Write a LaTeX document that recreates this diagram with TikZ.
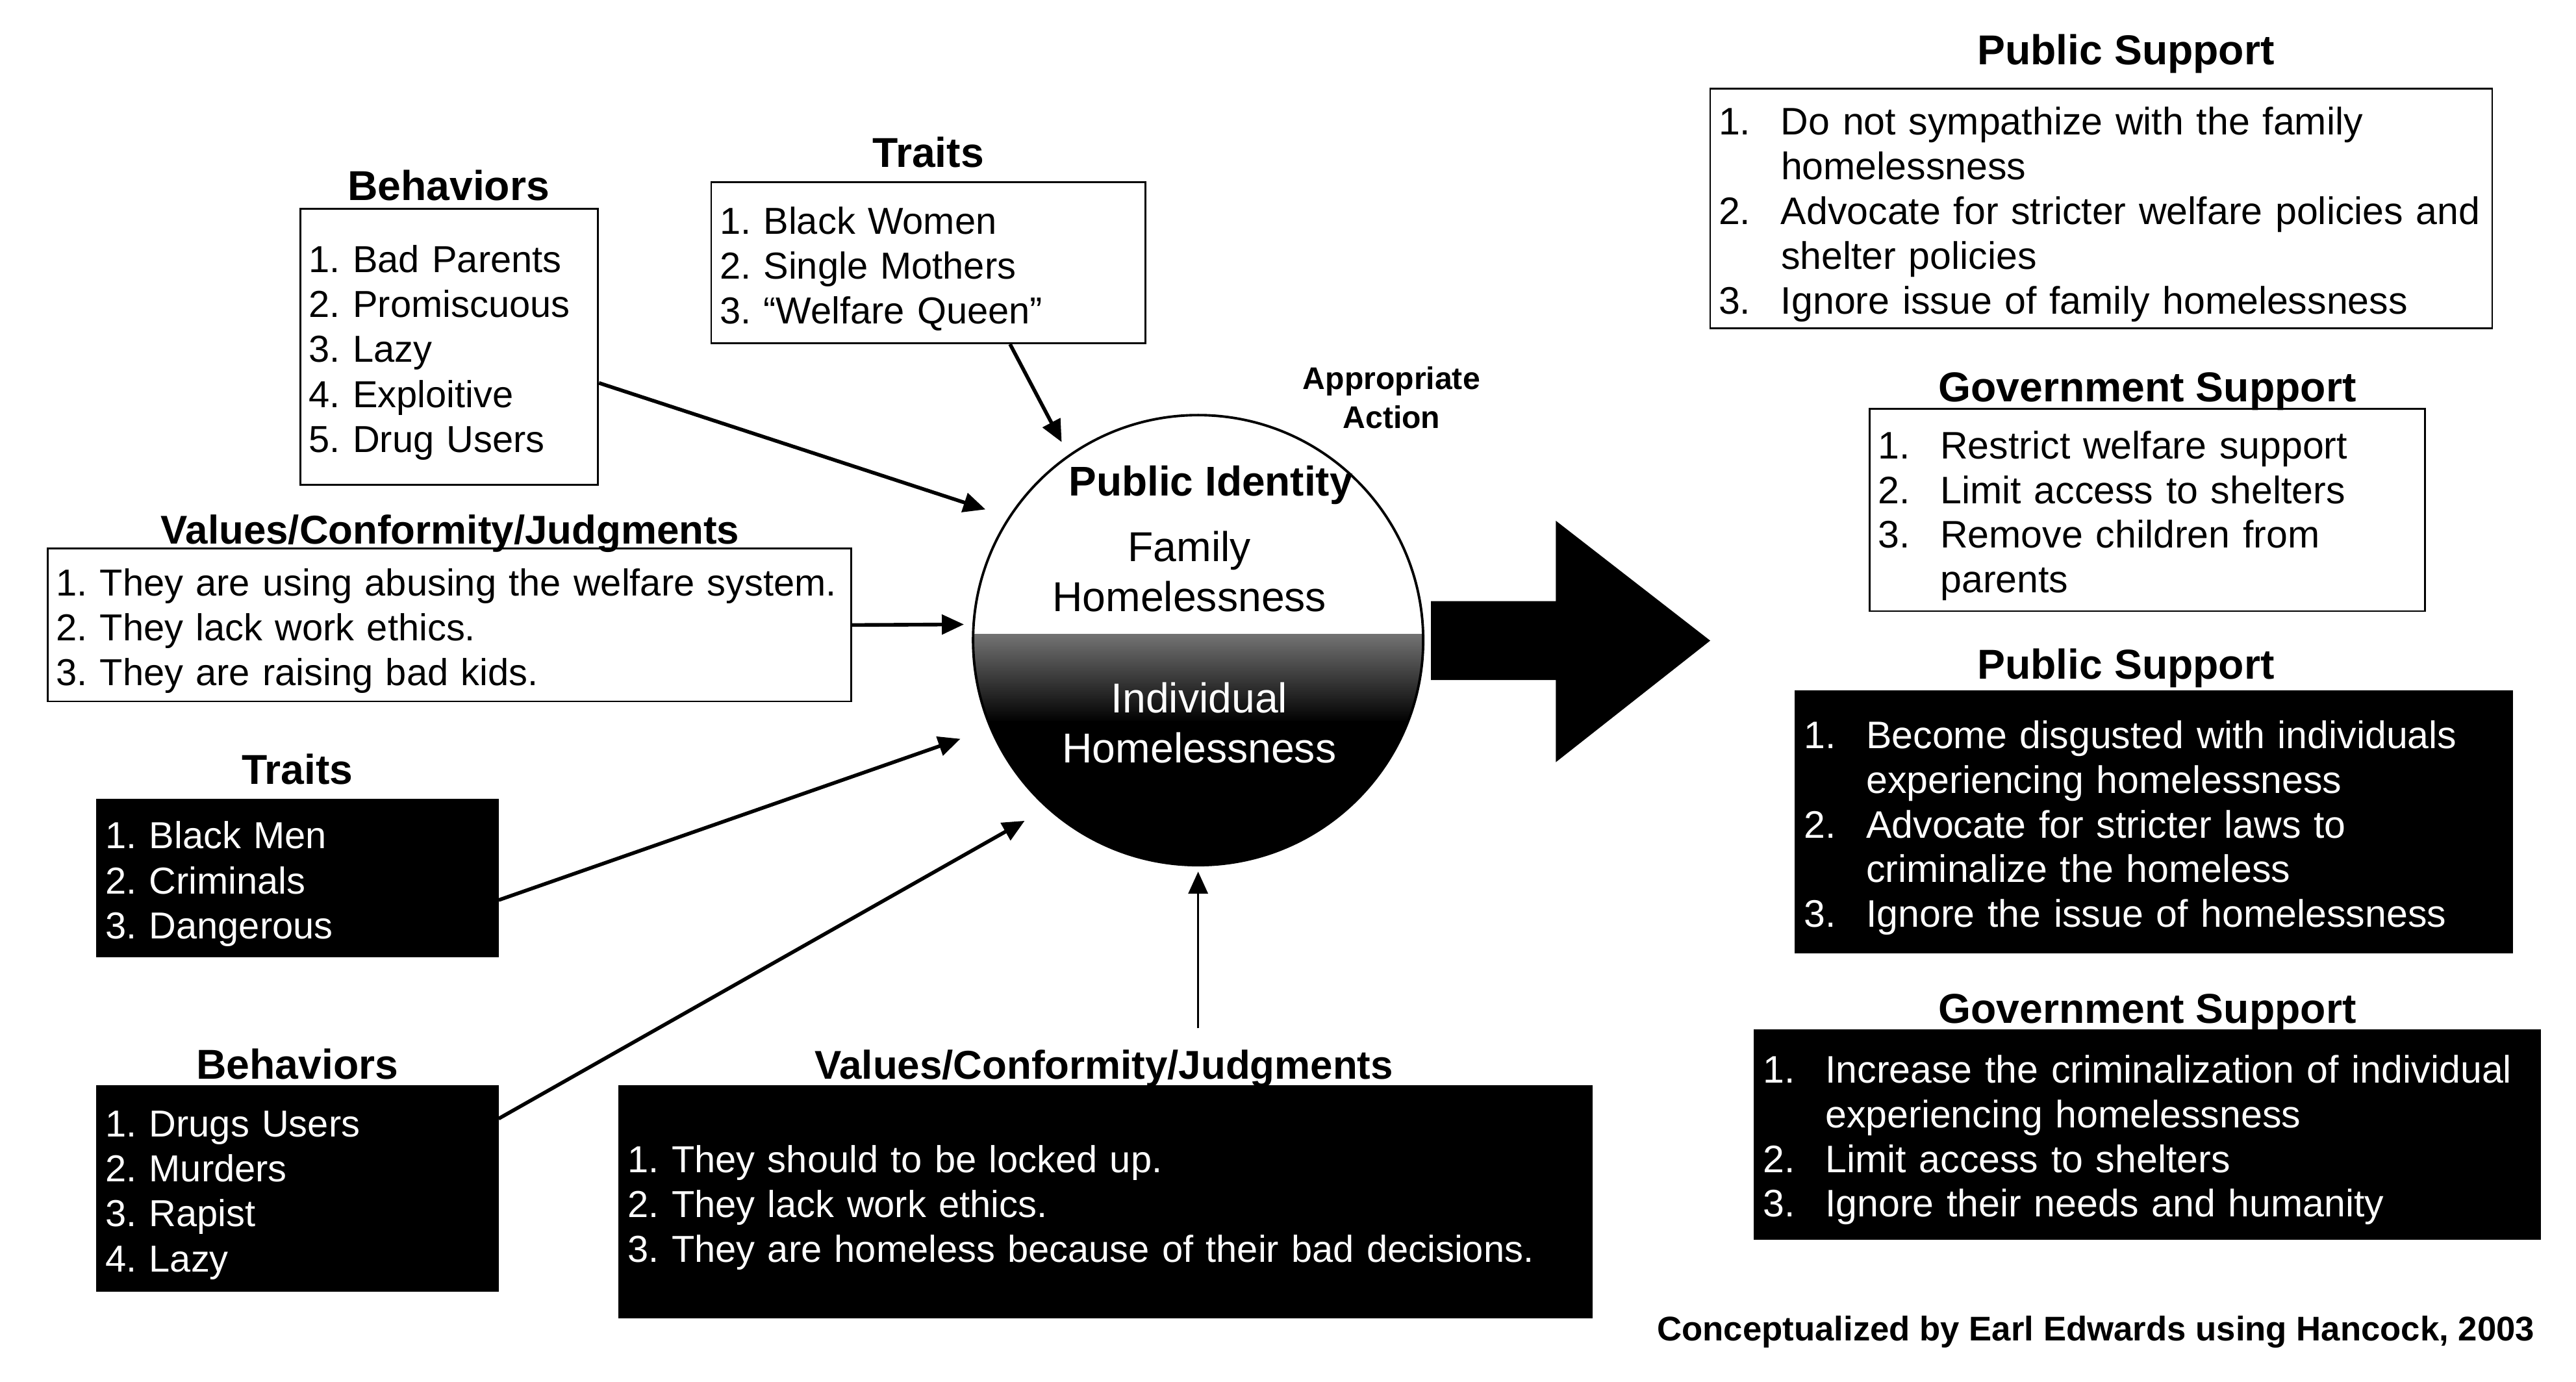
\documentclass[tikz,border=0pt]{standalone}
\usepackage{fontspec}
\setmainfont{Liberation Sans}
\usetikzlibrary{arrows.meta}
\newcommand{\inum}[1]{\makebox[9.6mm][l]{#1}}

\tikzset{
  listbox/.style={draw, line width=0.8pt, inner xsep=1.3mm, inner ysep=0pt, align=left,
    font=\fontsize{16.45}{19.7}\selectfont, execute at begin node={\rule{0pt}{17.2pt}}},
  rlistbox/.style={listbox, font=\fontsize{16.8}{19.6}\selectfont},
  blackbox/.style={fill=black, text=white},
  head/.style={font=\fontsize{18.3}{21}\selectfont\bfseries, inner sep=0pt, anchor=base},
  circtext/.style={font=\fontsize{18.3}{22}\selectfont, align=center, inner sep=0pt},
  arr/.style={-{Triangle[length=3.4mm, width=3mm]}, line width=1.6pt},
}

\begin{document}
\frenchspacing
\begin{tikzpicture}[x=0.25293mm, y=-0.25293mm]

    \useasboundingbox (0,0) rectangle (1568,841.3);

    % family side
    \node[head] (hbehA) at (273,122) {Behaviors};
    \node[listbox, text width=43.2mm, minimum height=42.5mm] (behA) at (273.5,211)
    {1. Bad Parents\\2. Promiscuous\\3. Lazy\\4. Exploitive\\5. Drug Users};

    \node[head] (htrA) at (565,102) {Traits};
    \node[listbox, text width=64.2mm, minimum height=24.78mm] (trA) at (565,160)
    {1. Black Women\\2. Single Mothers\\3. “Welfare Queen”};

    \node[head, font=\fontsize{17.6}{21}\selectfont\bfseries] (hvalA) at (274,331) {Values/Conformity/Judgments};
    \node[listbox, text width=121.1mm, minimum height=23.52mm] (valA) at (273.5,380.5)
    {\mbox{1. They are using abusing the welfare system.}\\2. They lack work ethics.\\3. They are raising bad kids.};

    % individual side
    \node[head] (htrB) at (181,477.5) {Traits};
    \node[listbox, blackbox, text width=59.1mm, minimum height=24.03mm] (trB) at (181,534.5)
    {1. Black Men\\2. Criminals\\3. Dangerous};

    \node[head] (hbehB) at (181,657) {Behaviors};
    \node[listbox, blackbox, text width=59.1mm, minimum height=31.61mm] (behB) at (181,723.5)
    {1. Drugs Users\\2. Murders\\3. Rapist\\4. Lazy};

    \node[head, font=\fontsize{17.6}{21}\selectfont\bfseries] (hvalB) at (672,657) {Values/Conformity/Judgments};
    \node[listbox, blackbox, text width=147.1mm, minimum height=35.66mm] (valB) at (673,731.5)
    {1. They should to be locked up.\\2. They lack work ethics.\\3. They are homeless because of their bad decisions.};

    % public identity
    \begin{scope}
        \clip (729.3,389.7) circle (34.65mm);
        \shade[top color=black!55, bottom color=black] (590,386) rectangle (870,440);
        \fill[black] (590,439) rectangle (870,530);
    \end{scope}
    \node[circle, draw, line width=1.1pt, minimum size=69.3mm, inner sep=0pt] (ident) at (729.3,389.7) {};

    \node[head, font=\fontsize{18.2}{21}\selectfont\bfseries] (pubid) at (737,302) {Public Identity};
    \node[circtext] (fam) at (724,348) {Family\\Homelessness};
    \node[circtext, text=white] (indiv) at (730,440) {Individual\\Homelessness};

    \node[font=\fontsize{13.7}{17}\selectfont\bfseries, align=center, inner sep=0pt] (act) at (847,242) {Appropriate\\Action};

    \fill[black] (871,366) -- (947,366) -- (947,317) -- (1041,390) -- (947,464) -- (947,414) -- (871,414) -- cycle;

    \draw[arr, shorten >=3.7mm] ([yshift=-5.6mm]behA.east) -- (ident.147.7);
    \draw[arr, shorten >=2.2mm] ([xshift=12.6mm]trA.south) -- (ident.125.2);
    \draw[arr, shorten >=1.3mm] (valA.east) -- (ident.176.4);
    \draw[arr, shorten >=4.8mm] ([yshift=-3.4mm]trB.east) -- (ident.203.4);
    \draw[arr, shorten >=3.9mm] ([yshift=10.75mm]behB.east) -- (ident.228.5);
    \coordinate (vbtop) at (729.3,626);
    \draw[arr, line width=1pt, shorten >=0.8mm] (vbtop) -- (ident.south);

    % responses
    \node[head] (hpsA) at (1294,39.5) {Public Support};
    \node[rlistbox, text width=117.8mm, minimum height=36.92mm] (psA) at (1279,127)
    {\inum{1.}Do not sympathize with the family\\ \inum{}homelessness\\ \mbox{\inum{2.}Advocate for stricter welfare policies and}\\ \inum{}shelter policies\\ \inum{3.}Ignore issue of family homelessness};

    \node[head] (hgsA) at (1307,244.5) {Government Support};
    \node[rlistbox, text width=82.9mm, minimum height=31.11mm] (gsA) at (1307,310.5)
    {\inum{1.}Restrict welfare support\\ \inum{2.}Limit access to shelters\\ \inum{3.}Remove children from\\ \inum{}parents};

    \node[head] (hpsB) at (1294,413.5) {Public Support};
    \node[rlistbox, blackbox, text width=107.7mm, minimum height=40.21mm] (psB) at (1311,500.5)
    {\inum{1.}Become disgusted with individuals\\ \inum{}experiencing homelessness\\ \inum{2.}Advocate for stricter laws to\\ \inum{}criminalize the homeless\\ \inum{3.}Ignore the issue of homelessness};

    \node[head] (hgsB) at (1307,623) {Government Support};
    \node[rlistbox, blackbox, text width=118.3mm, minimum height=32.12mm] (gsB) at (1307,690.5)
    {\inum{1.}Increase the criminalization of individual\\ \inum{}experiencing homelessness\\ \inum{2.}Limit access to shelters\\ \inum{3.}Ignore their needs and humanity};

    \node[font=\fontsize{15}{18}\selectfont\bfseries, anchor=base east, inner sep=0pt] (credit) at (1543,816.4)
    {Conceptualized by Earl Edwards using Hancock, 2003};

\end{tikzpicture}
\end{document}
